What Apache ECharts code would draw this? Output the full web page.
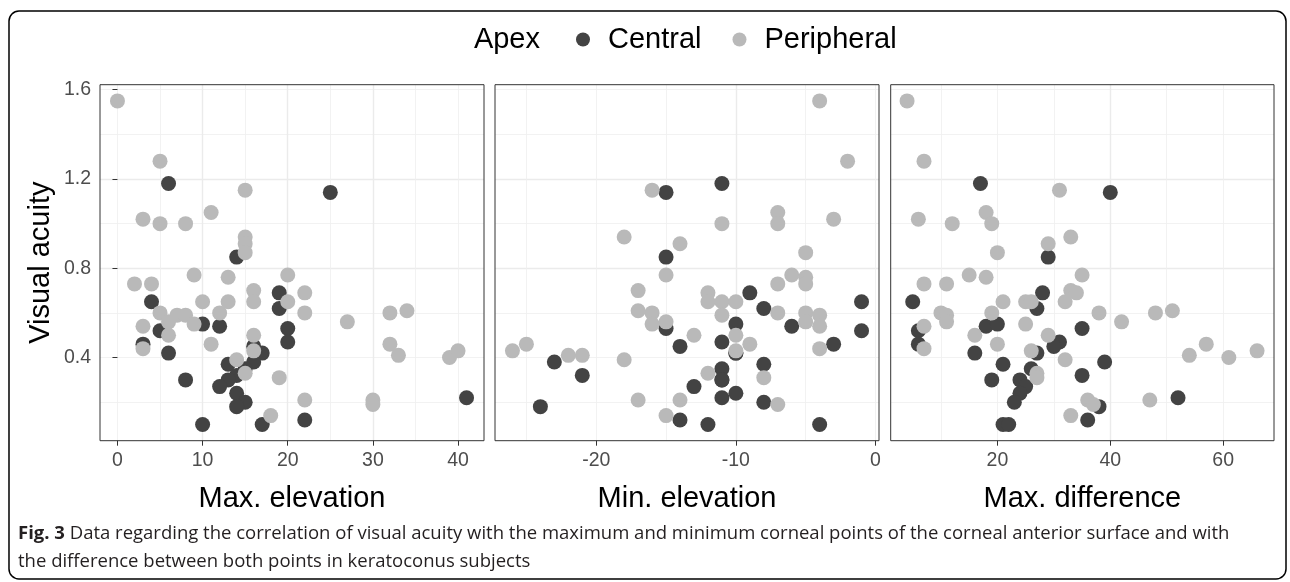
<!DOCTYPE html>
<html>
<head>
<meta charset="utf-8">
<script src="https://cdn.jsdelivr.net/npm/echarts@6/dist/echarts.min.js"></script>
<style>html,body{margin:0;padding:0;background:#fff;}#c{width:1290px;height:582px;}</style>
</head>
<body>
<div id="c"></div>
<script>
// ---------- data (x, visual acuity) ----------
var maxElevCentral = [[6,1.18],[14,0.85],[19,0.69],[4,0.65],[19,0.62],[10,0.55],[12,0.54],[5,0.52],[3,0.46],[6,0.42],[16,0.45],[17,0.42],[16,0.38],[13,0.37],[14,0.32],[13,0.30],[12,0.27],[8,0.30],[14,0.24],[15,0.20],[14,0.18],[10,0.10],[17,0.10],[25,1.14],[20,0.53],[20,0.47],[22,0.12],[41,0.22],[15,0.35]];
var maxElevPeripheral = [[0,1.55],[5,1.28],[15,1.15],[11,1.05],[3,1.02],[5,1.0],[8,1.0],[15,0.94],[15,0.91],[15,0.87],[9,0.77],[13,0.76],[20,0.77],[2,0.73],[4,0.73],[16,0.70],[10,0.65],[13,0.65],[16,0.65],[20,0.65],[5,0.60],[7,0.59],[8,0.59],[6,0.56],[12,0.60],[9,0.55],[3,0.54],[6,0.50],[16,0.50],[3,0.44],[11,0.46],[16,0.43],[14,0.39],[15,0.33],[19,0.31],[18,0.14],[22,0.69],[22,0.60],[27,0.56],[32,0.60],[34,0.61],[32,0.46],[33,0.41],[39,0.40],[40,0.43],[22,0.21],[30,0.21],[30,0.19]];
var minElevCentral = [[-11,1.18],[-15,1.14],[-15,0.85],[-9,0.69],[-1,0.65],[-8,0.62],[-6,0.54],[-10,0.55],[-15,0.53],[-1,0.52],[-11,0.47],[-14,0.45],[-3,0.46],[-10,0.42],[-10,0.42],[-23,0.38],[-8,0.37],[-21,0.32],[-11,0.35],[-11,0.30],[-11,0.30],[-13,0.27],[-10,0.24],[-11,0.22],[-8,0.20],[-24,0.18],[-14,0.12],[-12,0.10],[-4,0.10]];
var minElevPeripheral = [[-4,1.55],[-2,1.28],[-16,1.15],[-7,1.05],[-7,1.0],[-3,1.02],[-11,1.0],[-18,0.94],[-14,0.91],[-5,0.87],[-15,0.77],[-6,0.77],[-5,0.76],[-5,0.73],[-7,0.73],[-17,0.70],[-12,0.69],[-12,0.65],[-11,0.65],[-10,0.65],[-17,0.61],[-16,0.60],[-11,0.59],[-7,0.60],[-5,0.60],[-4,0.59],[-5,0.56],[-4,0.54],[-16,0.55],[-15,0.56],[-13,0.50],[-10,0.50],[-9,0.46],[-4,0.44],[-25,0.46],[-26,0.43],[-10,0.43],[-22,0.41],[-21,0.41],[-18,0.39],[-12,0.33],[-8,0.31],[-7,0.19],[-17,0.21],[-14,0.21],[-15,0.14]];
var maxDiffCentral = [[17,1.18],[40,1.14],[29,0.85],[28,0.69],[5,0.65],[27,0.62],[18,0.54],[20,0.55],[6,0.52],[35,0.53],[31,0.47],[30,0.45],[6,0.46],[16,0.42],[27,0.42],[39,0.38],[21,0.37],[26,0.35],[19,0.30],[35,0.32],[24,0.30],[25,0.27],[24,0.24],[23,0.20],[38,0.18],[52,0.22],[36,0.12],[21,0.10],[22,0.10]];
var maxDiffPeripheral = [[4,1.55],[7,1.28],[31,1.15],[6,1.02],[12,1.0],[18,1.05],[19,1.0],[33,0.94],[29,0.91],[20,0.87],[15,0.77],[18,0.76],[35,0.77],[7,0.73],[11,0.73],[33,0.70],[34,0.69],[32,0.65],[21,0.65],[25,0.65],[26,0.65],[10,0.60],[11,0.59],[11,0.56],[19,0.60],[38,0.60],[48,0.60],[51,0.61],[42,0.56],[25,0.55],[7,0.54],[29,0.50],[7,0.44],[16,0.50],[20,0.46],[26,0.43],[57,0.46],[54,0.41],[61,0.40],[66,0.43],[32,0.39],[27,0.33],[27,0.31],[36,0.21],[37,0.19],[47,0.21],[33,0.14]];

var yTicks = [0.4, 0.8, 1.2, 1.6];
var xTicksMax = [0, 10, 20, 30, 40];
var xTicksMin = [-20, -10, 0];
var xTicksDiff = [20, 40, 60];
var xTitles = ['Max. elevation', 'Min. elevation', 'Max. difference'];
var seriesNames = ['Central', 'Peripheral'];
var legendTitle = 'Apex';
var yTitle = 'Visual acuity';
var captionBold = 'Fig. 3';
var captionLine1 = ' Data regarding the correlation of visual acuity with the maximum and minimum corneal points of the corneal anterior surface and with';
var captionLine2 = 'the difference between both points in keratoconus subjects';

// ---------- layout ----------
var FONT = "'Liberation Sans', Arial, Helvetica, sans-serif";
var CAP_FONT = "'Open Sans', sans-serif";
var COL_C = '#434343', COL_P = '#b9b9b9';
var Y_MIN = 0.0275, Y_MAX = 1.6225;
var panels = [
  {left: 100, width: 384, xmin: -2.05, xmax: 43.05, major: 10, minor: 5, ticks: xTicksMax, c: maxElevCentral, p: maxElevPeripheral},
  {left: 495, width: 384, xmin: -27.25, xmax: 0.25, major: 10, minor: 5, ticks: xTicksMin, c: minElevCentral, p: minElevPeripheral},
  {left: 890.7, width: 383.3, xmin: 1.1, xmax: 69.0, major: 20, minor: 10, ticks: xTicksDiff, c: maxDiffCentral, p: maxDiffPeripheral}
];
var TOP = 84.7, HEIGHT = 356;

var grids = [], xAxes = [], yAxes = [], series = [], graphics = [];
var gridLineMajor = {color: '#ebebeb', width: 1.4};
var gridLineMinor = {color: '#efefef', width: 0.8};

panels.forEach(function (p, i) {
  grids.push({left: p.left, top: TOP, width: p.width, height: HEIGHT, show: false, containLabel: false});
  // minor x
  xAxes.push({gridIndex: i, type: 'value', position: 'bottom', offset: 0, min: p.xmin, max: p.xmax, minInterval: p.minor, maxInterval: p.minor, splitNumber: 12,
    axisLine: {show: false}, axisTick: {show: false}, axisLabel: {show: false},
    splitLine: {show: true, showMinLine: false, showMaxLine: false, lineStyle: gridLineMinor}});
  // major x
  xAxes.push({gridIndex: i, type: 'value', position: 'bottom', offset: 0, min: p.xmin, max: p.xmax, minInterval: p.major, maxInterval: p.major, splitNumber: 5,
    axisLine: {show: false},
    axisTick: {show: true, customValues: p.ticks, length: 5, lineStyle: {color: '#333', width: 1}},
    axisLabel: {show: true, customValues: p.ticks, fontSize: 19.5, color: '#4d4d4d', fontFamily: FONT, margin: 10},
    splitLine: {show: true, showMinLine: false, showMaxLine: false, lineStyle: gridLineMajor}});
  // minor y
  yAxes.push({gridIndex: i, type: 'value', position: 'left', offset: 0, min: Y_MIN, max: Y_MAX, minInterval: 0.2, maxInterval: 0.2, splitNumber: 8,
    axisLine: {show: false}, axisTick: {show: false}, axisLabel: {show: false},
    splitLine: {show: true, showMinLine: false, showMaxLine: false, lineStyle: gridLineMinor}});
  // major y
  yAxes.push({gridIndex: i, type: 'value', position: 'left', offset: 0, min: Y_MIN, max: Y_MAX, minInterval: 0.4, maxInterval: 0.4, splitNumber: 4,
    axisLine: {show: false},
    axisTick: {show: i === 0, customValues: yTicks, length: 5, lineStyle: {color: '#333', width: 1}},
    axisLabel: {show: i === 0, customValues: yTicks, fontSize: 19.5, color: '#4d4d4d', fontFamily: FONT, margin: 9,
      formatter: function (v) { return v.toFixed(1); }},
    splitLine: {show: true, showMinLine: false, showMaxLine: false, lineStyle: gridLineMajor}});
  series.push({name: seriesNames[0], type: 'scatter', xAxisIndex: 2 * i + 1, yAxisIndex: 2 * i + 1, data: p.c,
    symbol: 'circle', symbolSize: 15, itemStyle: {color: COL_C, opacity: 1}, silent: true, z: 3});
  series.push({name: seriesNames[1], type: 'scatter', xAxisIndex: 2 * i + 1, yAxisIndex: 2 * i + 1, data: p.p,
    symbol: 'circle', symbolSize: 15, itemStyle: {color: COL_P, opacity: 1}, silent: true, z: 3});
  graphics.push({type: 'text', x: p.left + p.width / 2, y: 499,
    style: {text: xTitles[i], font: '29px ' + FONT, fill: '#000', textAlign: 'center', textVerticalAlign: 'middle'}});
  // panel border on top of grid lines
  graphics.push({type: 'rect', z: 10, silent: true, shape: {x: p.left, y: TOP, width: p.width, height: HEIGHT},
    style: {fill: 'none', stroke: '#333', lineWidth: 1}});
});

graphics.push({type: 'text', x: 41, y: TOP + HEIGHT / 2, rotation: Math.PI / 2,
  style: {text: yTitle, font: '29px ' + FONT, fill: '#000', textAlign: 'center', textVerticalAlign: 'middle'}});
graphics.push({type: 'text', x: 540, y: 40,
  style: {text: legendTitle, font: '29px ' + FONT, fill: '#000', textAlign: 'right', textVerticalAlign: 'middle'}});
graphics.push({type: 'text', x: 18, y: 534,
  style: {rich: {b: {fontWeight: 'bold', fontSize: 18.5, fontFamily: CAP_FONT, fill: '#231f20'},
                 n: {fontSize: 18.5, fontFamily: CAP_FONT, fill: '#231f20'}},
          text: '{b|' + captionBold + '}{n|' + captionLine1 + '}', textVerticalAlign: 'middle'}});
graphics.push({type: 'text', x: 18, y: 562,
  style: {text: captionLine2, font: '18.5px ' + CAP_FONT, fill: '#231f20', textVerticalAlign: 'middle'}});
graphics.push({type: 'rect', silent: true, shape: {x: 9, y: 11, width: 1277, height: 568, r: 10},
  style: {fill: 'none', stroke: '#000', lineWidth: 1.5}});

var chart = echarts.init(document.getElementById('c'), null, {renderer: 'canvas'});
chart.setOption({
  animation: false,
  backgroundColor: '#fff',
  textStyle: {fontFamily: FONT},
  legend: {data: seriesNames, left: 571, top: 20, icon: 'circle', itemWidth: 14, itemHeight: 14, itemGap: 31,
    textStyle: {fontSize: 29, color: '#000', fontFamily: FONT, padding: [0, 0, 0, 13]}, selectedMode: false},
  grid: grids,
  xAxis: xAxes,
  yAxis: yAxes,
  series: series,
  graphic: graphics
});
</script>
</body>
</html>
